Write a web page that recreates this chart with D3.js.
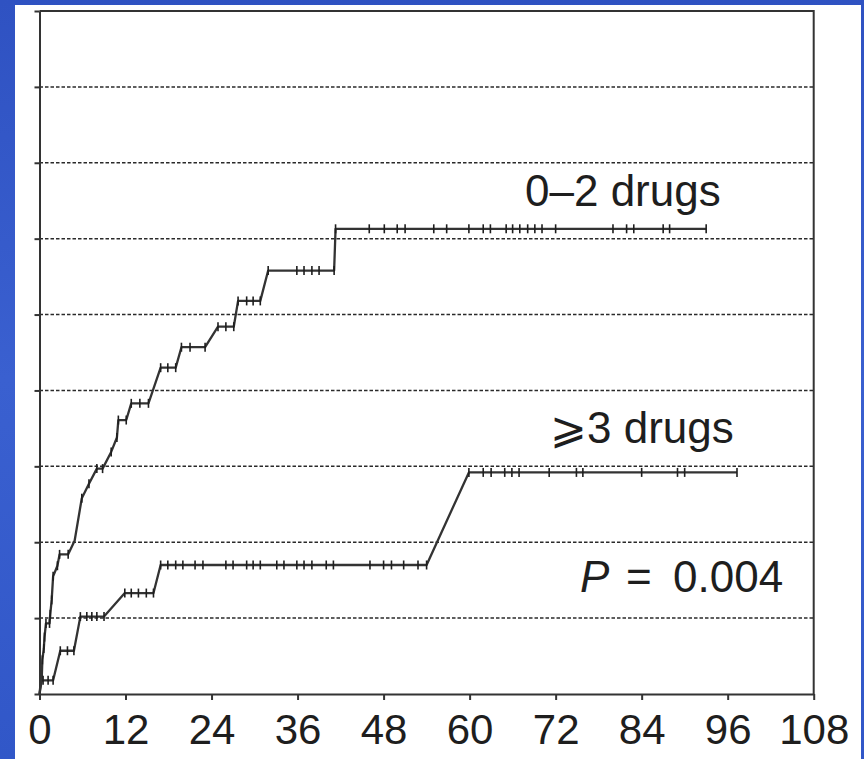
<!DOCTYPE html>
<html>
<head>
<meta charset="utf-8">
<script src="https://cdn.jsdelivr.net/npm/d3@7"></script>
<style>
  html, body { margin: 0; padding: 0; background: #ffffff; }
  svg { display: block; }
</style>
</head>
<body>
<svg id="chart" width="864" height="759"></svg>
<script>
// Cumulative incidence by number of drugs (months on x, % on y)
const xTicks = [0, 12, 24, 36, 48, 60, 72, 84, 96, 108];
const yTicks = [0, 10, 20, 30, 40, 50, 60, 70, 80, 90];

// 0–2 drugs: curve vertices
const lowTimes  = [0, 0.3, 0.4, 0.6, 0.7, 0.9, 1.4, 1.5, 1.7, 1.9, 2.5, 2.8, 4.0, 4.9, 5.9, 6.9, 8.0, 8.8, 10.0, 10.8, 11.0, 12.1, 12.8, 15.2, 16.9, 19.0, 19.8, 23.1, 24.9, 27.1, 27.7, 30.8, 31.9, 41.1, 41.3, 93.0];
const lowValues = [0, 1.7, 4.5, 6.0, 7.5, 9.3, 9.3, 10.5, 12.4, 15.5, 16.9, 18.4, 18.4, 20.2, 25.8, 27.7, 29.7, 29.7, 31.9, 33.8, 36.1, 36.1, 38.3, 38.3, 43.0, 43.0, 45.7, 45.7, 48.4, 48.4, 51.8, 51.8, 55.8, 55.8, 61.3, 61.3];
// 0–2 drugs: censored times
const lowCensor = [0.4, 0.6, 0.7, 0.9, 1.4, 1.5, 1.7, 1.9, 2.5, 2.8, 4.0, 5.9, 6.9, 8.0, 8.8, 10.0, 10.8, 11.0, 12.1, 12.8, 14.0, 15.2, 16.9, 17.9, 19.0, 19.8, 21.0, 23.1, 24.9, 26.0, 27.1, 27.7, 28.9, 29.8, 30.8, 31.9, 35.9, 36.9, 38.0, 39.0, 41.1, 41.3, 46.0, 48.1, 49.9, 51.0, 55.0, 56.8, 59.9, 61.9, 62.9, 65.1, 66.0, 67.0, 68.1, 69.1, 70.1, 72.0, 80.0, 81.9, 82.9, 87.0, 87.9, 93.0];

// ≥3 drugs: curve vertices
const highTimes  = [0, 0.2, 1.9, 2.9, 4.8, 5.7, 9.0, 11.9, 15.9, 16.9, 54.0, 59.9, 97.3];
const highValues = [0, 1.8, 1.8, 5.7, 5.7, 10.2, 10.2, 13.3, 13.3, 17.0, 17.0, 29.2, 29.2];
// ≥3 drugs: censored times
const highCensor = [0.5, 1.2, 1.9, 2.9, 3.9, 4.8, 5.7, 6.6, 7.3, 8.0, 9.0, 11.9, 12.8, 13.8, 14.9, 15.9, 16.9, 17.9, 19.0, 20.0, 21.7, 22.8, 26.0, 27.0, 28.9, 29.8, 30.8, 33.1, 34.1, 35.9, 36.9, 38.0, 40.0, 41.0, 46.1, 48.0, 49.1, 50.8, 52.8, 54.0, 59.9, 61.9, 63.0, 64.9, 65.9, 66.9, 71.1, 74.9, 75.8, 84.0, 89.0, 90.0, 97.3];

const labels = { low: "0\u20132 drugs", high: "\u2A7E3 drugs", p: "0.004" };

const svg = d3.select("#chart");
const W = 864, H = 759;
const font = "'Liberation Sans', Arial, Helvetica, sans-serif";
const ink = "#1e1e1e";

// blue frame
const grad = svg.append("defs").append("linearGradient")
  .attr("id", "frameBlue").attr("x1", 0).attr("y1", 0).attr("x2", 0).attr("y2", 1);
grad.append("stop").attr("offset", 0).attr("stop-color", "#2f52c2");
grad.append("stop").attr("offset", 0.5).attr("stop-color", "#3a60d0");
grad.append("stop").attr("offset", 1).attr("stop-color", "#3157c8");
svg.append("rect").attr("x", 0).attr("y", 0).attr("width", W).attr("height", H).attr("fill", "url(#frameBlue)");
svg.append("rect").attr("x", 15).attr("y", 5).attr("width", 846).attr("height", H - 5).attr("fill", "#ffffff");

const plotL = 39.5, plotR = 813.7, plotT = 11, plotB = 694;
const x = d3.scaleLinear().domain([0, 108]).range([plotL, plotR]);
const y = d3.scaleLinear().domain([0, 90]).range([plotB, plotT]);

// dashed gridlines
svg.append("g")
  .selectAll("line")
  .data(yTicks.filter(v => v > 0 && v < 90))
  .join("line")
  .attr("x1", plotL).attr("x2", plotR)
  .attr("y1", d => y(d)).attr("y2", d => y(d))
  .attr("stroke", "#2a2a2a").attr("stroke-width", 1.5)
  .attr("stroke-dasharray", "3.5,2");

// x axis
const xAxis = svg.append("g")
  .attr("transform", `translate(0,${plotB})`)
  .call(d3.axisBottom(x).tickValues(xTicks).tickSize(6).tickSizeOuter(0).tickPadding(14));
xAxis.select(".domain").attr("stroke", "#333").attr("stroke-width", 2);
xAxis.selectAll(".tick line").attr("stroke", "#333").attr("stroke-width", 2);
xAxis.selectAll(".tick text")
  .attr("font-family", font).attr("font-size", 42).attr("fill", ink)
  .attr("dy", "0.71em");

// y axis (no labels)
const yAxis = svg.append("g")
  .attr("transform", `translate(${plotL},0)`)
  .call(d3.axisLeft(y).tickValues(yTicks).tickSize(5).tickSizeOuter(0).tickFormat(""));
yAxis.select(".domain").attr("stroke", "#333").attr("stroke-width", 2);
yAxis.selectAll(".tick line").attr("stroke", "#333").attr("stroke-width", 2);

// top and right frame
svg.append("path")
  .attr("d", `M${plotL},${plotT}H${plotR}V${plotB}`)
  .attr("fill", "none").attr("stroke", "#333").attr("stroke-width", 2);

// curves
const line = d3.line().x(d => x(d[0])).y(d => y(d[1]));
function drawCurve(times, values, censor) {
  const pts = times.map((t, i) => [t, values[i]]);
  svg.append("path")
    .datum(pts)
    .attr("d", line)
    .attr("fill", "none")
    .attr("stroke", "#333")
    .attr("stroke-width", 2.3)
    .attr("stroke-linejoin", "round");
  const level = d3.scaleLinear().domain(times).range(values);
  svg.append("g")
    .selectAll("line")
    .data(censor)
    .join("line")
    .attr("x1", d => x(d)).attr("x2", d => x(d))
    .attr("y1", d => y(level(d)) - 4.5).attr("y2", d => y(level(d)) + 4.5)
    .attr("stroke", "#1e1e1e").attr("stroke-width", 1.6);
}
drawCurve(lowTimes, lowValues, lowCensor);
drawCurve(highTimes, highValues, highCensor);

// annotations
svg.append("text")
  .attr("x", 525).attr("y", 206)
  .attr("font-family", font).attr("font-size", 44).attr("fill", ink)
  .text(labels.low);

svg.append("text")
  .attr("x", 550).attr("y", 443)
  .attr("font-family", font).attr("font-size", 44).attr("fill", ink)
  .text(labels.high);

const pText = svg.append("text")
  .attr("y", 592)
  .attr("font-family", font).attr("font-size", 44).attr("fill", ink);
pText.append("tspan").attr("x", 580).attr("font-style", "italic").text("P");
pText.append("tspan").attr("x", 626).text("=");
pText.append("tspan").attr("x", 673).text(labels.p);
</script>
</body>
</html>
